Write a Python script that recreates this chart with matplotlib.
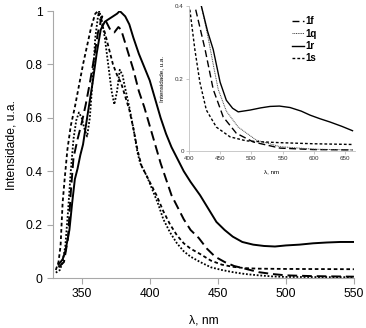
import matplotlib
matplotlib.use('Agg')
from matplotlib import pyplot as plt

plt.rcParams['font.family'] = ['Liberation Sans', 'DejaVu Sans']

# espectros principais (lambda em nm, intensidade normalizada)
wl_1f = [333, 337, 340, 342, 344, 347, 350, 353, 356, 359, 362, 365, 368, 371, 374, 377, 379,
         382, 385, 388, 392, 396, 400, 404, 408, 412, 416, 420, 425, 430, 436, 442, 448, 455,
         462, 470, 480, 490, 500, 520, 550]
int_1f = [0.04, 0.06, 0.15, 0.32, 0.45, 0.52, 0.58, 0.65, 0.73, 0.82, 0.92, 0.98, 0.96, 0.93,
          0.92, 0.94, 0.93, 0.88, 0.83, 0.78, 0.70, 0.64, 0.57, 0.50, 0.43, 0.37, 0.31, 0.27,
          0.22, 0.18, 0.15, 0.11, 0.08, 0.06, 0.045, 0.035, 0.022, 0.015, 0.01, 0.007, 0.005]

wl_1q = [331, 334, 336, 338, 340, 342, 344, 346, 348, 350, 352, 354, 356, 358, 360, 362, 363,
         365, 367, 369, 372, 374, 376, 378, 380, 382, 385, 388, 391, 393, 395, 398, 402, 406,
         410, 415, 420, 425, 430, 437, 445, 453, 461, 470, 480, 490, 500, 550]
int_1q = [0.02, 0.03, 0.06, 0.12, 0.25, 0.40, 0.52, 0.59, 0.62, 0.60, 0.56, 0.53, 0.60, 0.74,
          0.90, 0.98, 1.0, 0.96, 0.90, 0.82, 0.70, 0.65, 0.70, 0.78, 0.76, 0.71, 0.64, 0.56,
          0.47, 0.43, 0.41, 0.38, 0.33, 0.28, 0.22, 0.17, 0.13, 0.10, 0.08, 0.06, 0.04, 0.03,
          0.022, 0.015, 0.01, 0.006, 0.004, 0.003]

wl_1r = [333, 336, 338, 341, 343, 345, 347, 349, 351, 354, 358, 361, 364, 367, 370, 373, 376,
         378, 380, 382, 385, 388, 392, 396, 400, 404, 408, 412, 416, 420, 425, 430, 437, 443,
         449, 455, 461, 468, 476, 484, 492, 500, 510, 520, 530, 540, 550]
int_1r = [0.05, 0.07, 0.10, 0.18, 0.28, 0.37, 0.41, 0.46, 0.50, 0.60, 0.73, 0.84, 0.93, 0.96,
          0.97, 0.98, 0.99, 1.0, 0.99, 0.98, 0.95, 0.90, 0.84, 0.79, 0.74, 0.67, 0.60, 0.54,
          0.49, 0.45, 0.40, 0.36, 0.31, 0.26, 0.21, 0.18, 0.155, 0.135, 0.125, 0.12, 0.118,
          0.122, 0.125, 0.13, 0.133, 0.135, 0.135]

wl_1s = [331, 333, 334.5, 336, 337.5, 339.5, 342, 345, 348, 351, 354, 357, 360, 362, 364, 367,
         370, 373, 376, 379, 382, 385, 388, 391, 394, 397, 400, 405, 410, 415, 420, 425, 430,
         437, 445, 453, 461, 470, 480, 500, 550]
int_1s = [0.03, 0.06, 0.12, 0.28, 0.37, 0.48, 0.57, 0.64, 0.72, 0.80, 0.87, 0.94, 0.99, 1.0,
          0.96, 0.92, 0.86, 0.80, 0.76, 0.73, 0.68, 0.63, 0.56, 0.48, 0.42, 0.39, 0.36, 0.31,
          0.25, 0.20, 0.16, 0.13, 0.11, 0.09, 0.065, 0.05, 0.042, 0.037, 0.035, 0.034, 0.033]

# detalhe (inset) 400-665 nm
in_wl_1f = [411, 426, 439, 455, 476, 503, 546, 599, 662]
in_int_1f = [0.39, 0.28, 0.17, 0.094, 0.049, 0.025, 0.008, 0.004, 0.003]
in_wl_1q = [420, 430, 440, 447, 460, 479, 508, 546, 600, 662]
in_int_1q = [0.40, 0.32, 0.23, 0.17, 0.11, 0.066, 0.03, 0.012, 0.005, 0.003]
in_wl_1r = [420, 430, 439, 450, 460, 470, 479, 498, 515, 530, 545, 562, 580, 594, 610, 626, 645, 662]
in_int_1r = [0.40, 0.33, 0.28, 0.19, 0.14, 0.118, 0.108, 0.113, 0.119, 0.123, 0.124, 0.12,
             0.11, 0.099, 0.089, 0.08, 0.068, 0.056]
in_wl_1s = [401.6, 409.6, 417.6, 428, 444, 466, 492, 520, 546, 600, 662]
in_int_1s = [0.39, 0.28, 0.19, 0.113, 0.066, 0.039, 0.028, 0.025, 0.023, 0.02, 0.018]

labels = ['1f', '1q', '1r', '1s']

grey = '#a8a8a8'

fig = plt.figure(figsize=(3.66, 3.28), dpi=100)
ax = fig.add_axes([0.145, 0.1524, 0.822, 0.814])

ax.plot(wl_1f, int_1f, color='black', lw=1.4, linestyle=(0, (5, 2.5)))
ax.plot(wl_1q, int_1q, color='black', lw=1.3, linestyle=(0, (1, 1)))
ax.plot(wl_1r, int_1r, color='black', lw=1.4, linestyle='-')
ax.plot(wl_1s, int_1s, color='black', lw=1.3, linestyle=(0, (2, 1.5)))

ax.set_xlim(329, 550)
ax.set_ylim(0, 1)
ax.set_xticks([350, 400, 450, 500, 550])
ax.set_yticks([0, 0.2, 0.4, 0.6, 0.8, 1])
ax.set_yticklabels(['0', '0.2', '0.4', '0.6', '0.8', '1'])
for s in ['top', 'right']:
    ax.spines[s].set_visible(False)
for s in ['left', 'bottom']:
    ax.spines[s].set_color(grey)
ax.tick_params(colors=grey, labelcolor='black', labelsize=8.7, length=4, width=0.8)
ax.set_xlabel('λ, nm', fontsize=8.7, labelpad=10)
ax.set_ylabel('Intensidade, u.a.', fontsize=8.7, labelpad=6)

# inset
ins = fig.add_axes([0.516, 0.5396, 0.454, 0.442])
ins.plot(in_wl_1f, in_int_1f, color='black', lw=1.0, linestyle=(0, (5, 2.5)), label=labels[0])
ins.plot(in_wl_1q, in_int_1q, color='#444444', lw=0.7, linestyle=(0, (1, 0.8)), label=labels[1])
ins.plot(in_wl_1r, in_int_1r, color='black', lw=1.0, linestyle='-', label=labels[2])
ins.plot(in_wl_1s, in_int_1s, color='black', lw=1.0, linestyle=(0, (2, 1.5)), label=labels[3])
ins.set_xlim(400, 666)
ins.set_ylim(0, 0.4)
ins.set_xticks([400, 450, 500, 550, 600, 650])
ins.set_yticks([0, 0.2, 0.4])
ins.set_yticklabels(['0', '0.2', '0.4'])
ins.patch.set_alpha(0)
for s in ['top', 'right']:
    ins.spines[s].set_visible(False)
for s in ['left', 'bottom']:
    ins.spines[s].set_color('#c0c0c0')
    ins.spines[s].set_linewidth(0.6)
ins.tick_params(colors='#c0c0c0', labelcolor='#333333', labelsize=4.5, length=2, width=0.6, pad=1.5)
ins.set_xlabel('λ, nm', fontsize=4.5, labelpad=6)
ins.set_ylabel('Intensidade, u.a.', fontsize=4.5, labelpad=8)
leg = ins.legend(loc='upper left', bbox_to_anchor=(0.62, 0.93), frameon=False,
                 prop={'size': 7, 'weight': 'bold'}, handlelength=1.2, handletextpad=0.2,
                 labelspacing=0.25, borderpad=0, borderaxespad=0)

fig.savefig('out.png', dpi=100)
